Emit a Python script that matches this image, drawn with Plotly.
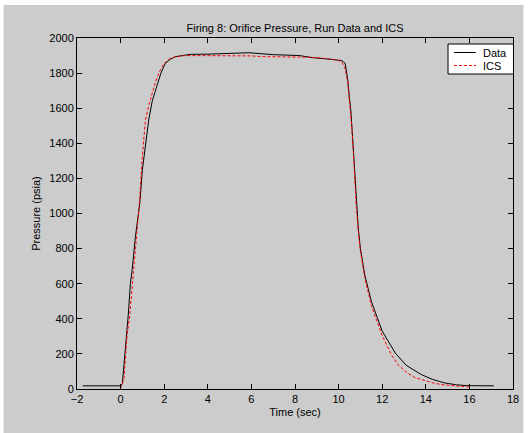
import plotly.graph_objects as go

# Run data (measured orifice pressure)
data_t = [-1.74, 0.0, 0.08, 0.23, 0.35, 0.45, 0.53, 0.68, 0.88, 1.0, 1.15, 1.29, 1.45, 1.67,
          1.85, 2.05, 2.3, 2.5, 2.8, 3.2, 4.0, 5.0, 5.9, 6.5, 7.0, 8.2, 8.8, 9.7, 10.15,
          10.3, 10.42, 10.49, 10.56, 10.7, 10.8, 10.9, 11.0, 11.2, 11.5, 12.0, 12.6,
          13.1, 13.8, 14.3, 14.85, 15.4, 15.9, 16.2, 17.12]
data_p = [18, 18, 30, 241, 420, 602, 680, 868, 1058, 1250, 1400, 1533, 1640, 1722,
          1800, 1856, 1880, 1893, 1900, 1907, 1908, 1910, 1916, 1910, 1905, 1900, 1888, 1878, 1871,
          1856, 1761, 1666, 1590, 1320, 1080, 920, 800, 650, 500, 330, 205,
          135, 82, 55, 35, 24, 19, 18, 18]

# ICS prediction
ics_t = [0.0, 0.15, 0.3, 0.42, 0.61, 0.76, 0.85, 1.0, 1.14, 1.3, 1.44, 1.6, 1.82, 2.0, 2.27,
         2.6, 3.0, 4.0, 5.0, 6.0, 6.5, 7.0, 8.0, 8.8, 9.5, 10.0, 10.15, 10.3, 10.42, 10.5,
         10.6, 10.7, 10.8, 10.9, 11.0, 11.2, 11.5, 12.0, 12.4, 12.73, 13.18, 13.5, 13.94,
         14.4, 14.85, 15.3, 15.8, 16.0]
ics_p = [5, 55, 310, 420, 697, 925, 1039, 1330, 1533, 1620, 1685, 1750, 1818, 1855, 1884,
         1895, 1900, 1900, 1902, 1898, 1894, 1893, 1895, 1890, 1882, 1872, 1862, 1825, 1745, 1645,
         1500, 1300, 1060, 905, 785, 635, 475, 305, 200, 137, 89, 65, 47,
         32, 23, 17, 13, 12]

x_ticks = list(range(-2, 19, 2))
y_ticks = list(range(0, 2001, 200))

FAMILY = "Liberation Sans, Arial, sans-serif"
font = dict(family=FAMILY, size=11, color="#000000")

# Plot-area geometry in pixels, used to place the legend box in paper units
W, H = 531, 433
L, R, T, B = 77, 14.5, 38, 44
PW, PH = W - L - R, H - T - B


def px_x(px):
    return (px - L) / PW


def px_y(py):
    return (H - B - py) / PH


series = [
    dict(t=data_t, p=data_p, name="Data", color="#000000", dash="solid"),
    dict(t=ics_t, p=ics_p, name="ICS", color="#ff0000", dash="3px,2px"),
]

fig = go.Figure()
for s in series:
    fig.add_trace(go.Scatter(x=s["t"], y=s["p"], mode="lines", name=s["name"],
                             line=dict(color=s["color"], width=1, dash=s["dash"])))

axis_common = dict(showgrid=False, zeroline=False, showline=True, linecolor="#000000",
                   linewidth=1, mirror="ticks", ticks="inside", ticklen=5,
                   tickcolor="#000000", tickfont=font)

# Figure background panel
shapes = [dict(type="rect", xref="paper", yref="paper", layer="below",
               x0=px_x(3), x1=px_x(527), y0=px_y(440), y1=px_y(5),
               fillcolor="#cccccc", line=dict(width=0))]
annotations = []

# Boxed legend in the upper-right corner of the axes
shapes.append(dict(type="rect", xref="paper", yref="paper", layer="above",
                   x0=px_x(451), x1=px_x(517), y0=px_y(74), y1=px_y(44),
                   fillcolor="#ffffff", line=dict(color="#000000", width=1)))
for i, s in enumerate(series):
    ly = 52.5 + i * 13
    shapes.append(dict(type="line", xref="paper", yref="paper", layer="above",
                       x0=px_x(457), x1=px_x(479), y0=px_y(ly), y1=px_y(ly),
                       line=dict(color=s["color"], width=1, dash=s["dash"])))
    annotations.append(dict(text=s["name"], xref="paper", yref="paper",
                            x=px_x(484), y=px_y(ly), xanchor="left", yanchor="middle",
                            showarrow=False, font=font))

fig.update_layout(
    width=W, height=H,
    margin=dict(l=L, r=R, t=T, b=B),
    paper_bgcolor="#ffffff",
    plot_bgcolor="#ffffff",
    font=font,
    showlegend=False,
    title=dict(text="Firing 8: Orifice Pressure, Run Data and ICS",
               font=font, x=0.5, xref="paper", xanchor="center",
               y=1 - 28 / H, yanchor="middle"),
    xaxis=dict(range=[-2, 18], tickvals=x_ticks,
               ticktext=["\u22122" if v < 0 else str(v) for v in x_ticks],
               title=dict(text="Time (sec)", font=font, standoff=4), **axis_common),
    yaxis=dict(range=[0, 2000], tickvals=y_ticks,
               title=dict(text="Pressure (psia)", font=font, standoff=6), **axis_common),
    shapes=shapes,
    annotations=annotations,
)

fig.write_html("out.html")
